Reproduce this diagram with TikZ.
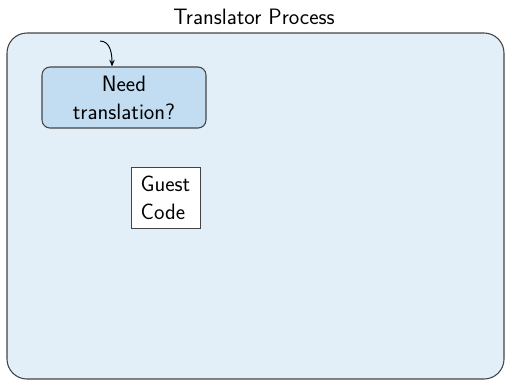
\documentclass[tikz,border=0pt]{standalone}
\usetikzlibrary{arrows.meta}
\definecolor{outerfill}{HTML}{E2EFF9}
\definecolor{needfill}{HTML}{C2DDF1}
\definecolor{edgegray}{HTML}{444444}
\begin{document}
\begin{tikzpicture}[x=0.75pt,y=-0.75pt,
  every node/.style={font=\sffamily\fontsize{16.7}{21}\selectfont, inner sep=0pt},
  groupbox/.style={draw=edgegray, fill=outerfill, line width=0.8pt, rounded corners=15pt, minimum width=372.75pt, minimum height=259.5pt},
  decisionbox/.style={draw=edgegray, fill=needfill, line width=0.8pt, rounded corners=6pt, minimum width=123pt, minimum height=45.75pt, align=center},
  codebox/.style={draw=edgegray, fill=white, line width=0.6pt, minimum width=51.75pt, minimum height=45.75pt, align=left},
  conn/.style={draw=black, line width=0.7pt, -{Stealth[length=5pt,width=4pt]}}
]
\useasboundingbox (0,0) rectangle (505,380);
\node[groupbox] (outer) at (255.5,206) {};
\node (title) at (254,17) {Translator Process};
\node[decisionbox] (need) at (124,97.5) {Need\\translation?};
\node[codebox] (guest) at (165.5,197.5) {Guest\\Code};
\coordinate (start) at (100,41);
\draw[conn] (start) to[out=0,in=90] ([xshift=-9pt]need.north);
\end{tikzpicture}
\end{document}
